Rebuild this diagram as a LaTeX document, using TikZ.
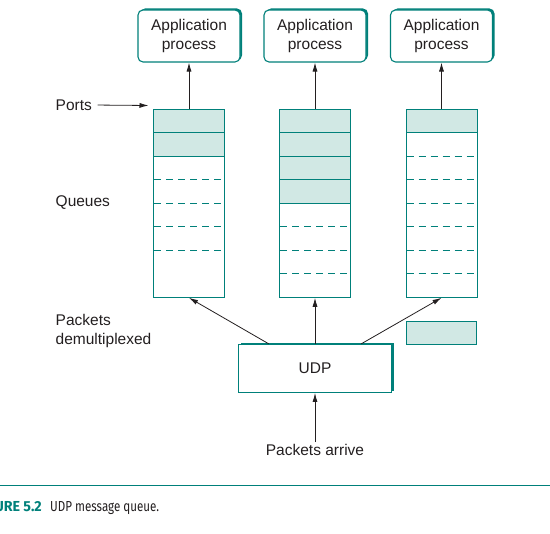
\documentclass[tikz,border=0pt]{standalone}
\usepackage{fontspec}
\setmainfont{Liberation Sans}
\newfontfamily\capfont[FakeStretch=0.8]{Fira Sans}
\newfontfamily\capbfont[FakeStretch=0.98]{Fira Sans}
\usetikzlibrary{arrows.meta,positioning,calc,shadows}

\definecolor{qteal}{RGB}{0,128,122}
\definecolor{qfill}{RGB}{209,232,228}
\definecolor{ink}{RGB}{35,31,32}

\tikzset{
  lbl/.style={text=ink, inner sep=0pt, font=\fontsize{15.5}{19}\selectfont},
  arr/.style={draw=ink, line width=0.8pt, -{Latex[length=9pt,width=5pt]}},
  appbox/.style={draw=qteal, line width=1.1pt, fill=white, rounded corners=5pt,
    minimum width=102pt, minimum height=52pt, align=center, text=ink,
    font=\fontsize{15.5}{19}\selectfont,
    drop shadow={shadow xshift=2pt, shadow yshift=1.5pt, fill=qteal, opacity=1}},
  udpbox/.style={appbox, rounded corners=0pt, minimum width=153pt, minimum height=48pt},
  queue/.style={draw=qteal, line width=1pt, minimum width=71pt, minimum height=188pt},
  cell/.style={draw=qteal, line width=1pt, fill=qfill, minimum width=70pt, minimum height=22.6pt},
  rowline/.style={draw=qteal, line width=1pt},
  rowdash/.style={draw=qteal, line width=1pt, dash pattern=on 7pt off 5pt}
}

\begin{document}
\begin{tikzpicture}[x=1pt, y=-1pt]
\useasboundingbox (0,0) rectangle (550,534);

% queues with their ports, and the process above each
\foreach \qx/\nfull/\dfrom/\dto [count=\i] in {189/2/3/6, 315/4/5/7, 441.5/1/2/7} {
  \foreach \r in {1,...,\nfull}
    \fill[qfill] (\qx-35.5,109.3+\r*23.5-23.5) rectangle (\qx+35.5,109.3+\r*23.5);
  \foreach \r in {1,...,\nfull}
    \draw[rowline] (\qx-35.5,109.3+\r*23.5) -- (\qx+35.5,109.3+\r*23.5);
  \foreach \r in {\dfrom,...,\dto}
    \draw[rowdash] (\qx-35,109.3+\r*23.5) -- (\qx+32.5,109.3+\r*23.5);
  \node[queue] (q\i) at (\qx,203.3) {};
  \node[appbox] (app\i) at (\qx,36) {Application\\process};
  \draw[arr] (q\i.north) -- (app\i.south);
}

\node[udpbox] (udp) at (315,368.4) {UDP};
\node[cell] (pkt) at (441.3,333) {};
\node[lbl, inner sep=2pt] (arrive) at (315,450) {Packets arrive};

\draw[arr] ($(udp.north west)!0.2!(udp.north east)$) -- (q1.south);
\draw[arr] (udp.north) -- (q2.south);
\draw[arr] ($(udp.north west)!0.8!(udp.north east)$) -- (q3.south);
\draw[arr] (arrive.north) -- (udp.south);

% labels on the left
\node[lbl, anchor=west] (ports) at (55.5,105) {Ports};
\coordinate (porttip) at (148.5,105.5);
\draw[arr, shorten <=5.5pt] (ports.east) -- (porttip);
\node[lbl, anchor=west] (queues) at (55.5,203) {Queues};
\node[lbl, anchor=west, align=left] (demux) at (55.5,330.5) {Packets\\demultiplexed};

% caption
\draw[qteal, line width=1pt] (0,486) -- (550,486);
\node[anchor=base east, inner sep=0pt, text=qteal, font=\capbfont\bfseries\fontsize{14.5}{16}\selectfont] (fignum) at (42,512) {FIGURE 5.2};
\node[anchor=base west, inner sep=0pt, text=ink, font=\capfont\fontsize{14.5}{16}\selectfont] (figtext) at (50,512) {UDP message queue.};
\end{tikzpicture}
\end{document}
